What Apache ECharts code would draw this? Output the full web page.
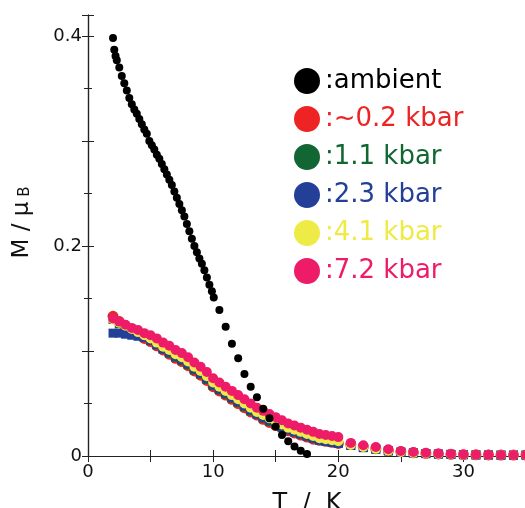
<!DOCTYPE html>
<html>
<head>
<meta charset="utf-8">
<script src="https://cdn.jsdelivr.net/npm/echarts@6/dist/echarts.min.js"></script>
<style>
  html, body { margin: 0; padding: 0; background: #fff; }
  #chart { width: 525px; height: 508px; }
</style>
</head>
<body>
<div id="chart"></div>
<script>
// ambient (black) - T in K, M in muB
const ambientT = [2.0, 2.1, 2.2, 2.3, 2.5, 2.7, 2.9, 3.1, 3.3, 3.5, 3.7, 3.9, 4.1, 4.3, 4.5, 4.7, 4.9,
  5.1, 5.3, 5.5, 5.7, 5.9, 6.1, 6.3, 6.5, 6.7, 6.9, 7.1, 7.3, 7.5, 7.7, 7.9, 8.1, 8.3, 8.5, 8.7, 8.9,
  9.1, 9.3, 9.5, 9.7, 9.9, 10.05, 10.5, 11.0, 11.5, 12.0, 12.5, 13.0, 13.5, 14.0, 14.5, 15.0, 15.5,
  16.0, 16.5, 17.0, 17.5];
const ambientM = [0.398, 0.387, 0.381, 0.377, 0.370, 0.362, 0.355, 0.348, 0.341, 0.335, 0.330, 0.326,
  0.321, 0.316, 0.311, 0.307, 0.300, 0.296, 0.292, 0.287, 0.283, 0.278, 0.273, 0.268, 0.263, 0.258,
  0.252, 0.246, 0.240, 0.234, 0.228, 0.221, 0.214, 0.207, 0.200, 0.194, 0.188, 0.183, 0.177, 0.170,
  0.163, 0.157, 0.151, 0.139, 0.123, 0.107, 0.093, 0.078, 0.066, 0.056, 0.045, 0.036, 0.028, 0.020,
  0.014, 0.009, 0.005, 0.002];

// pressure runs share the same temperatures
const pressT = [2.0, 2.5, 3.0, 3.5, 4.0, 4.5, 5.0, 5.5, 6.0, 6.5, 7.0, 7.5, 8.0, 8.5, 9.0, 9.5, 10.0,
  10.5, 11.0, 11.5, 12.0, 12.5, 13.0, 13.5, 14.0, 14.5, 15.0, 15.5, 16.0, 16.5, 17.0, 17.5, 18.0,
  18.5, 19.0, 19.5, 20.0, 21, 22, 23, 24, 25, 26, 27, 28, 29, 30, 31, 32, 33, 34, 35];

const m02 = [0.133, 0.128, 0.123, 0.119, 0.116, 0.112, 0.109, 0.105, 0.101, 0.097, 0.093, 0.090,
  0.086, 0.081, 0.077, 0.072, 0.066, 0.062, 0.058, 0.054, 0.050, 0.046, 0.042, 0.039, 0.035, 0.032,
  0.029, 0.027, 0.024, 0.022, 0.020, 0.018, 0.016, 0.015, 0.014, 0.013, 0.012,
  0.0110, 0.0090, 0.0070, 0.0052, 0.0040, 0.0031, 0.0024, 0.0020, 0.0016, 0.0013, 0.0011, 0.0010,
  0.0009, 0.0009, 0.0009];
const m11 = [0.130, 0.126, 0.122, 0.119, 0.116, 0.113, 0.110, 0.106, 0.102, 0.098, 0.094, 0.091,
  0.087, 0.082, 0.078, 0.073, 0.067, 0.063, 0.059, 0.055, 0.051, 0.047, 0.043, 0.040, 0.036, 0.033,
  0.030, 0.027, 0.025, 0.023, 0.021, 0.019, 0.017, 0.015, 0.014, 0.013, 0.012,
  0.0100, 0.0080, 0.0066, 0.0050, 0.0038, 0.0030, 0.0024, 0.0019, 0.0016, 0.0013, 0.0011, 0.0010,
  0.0009, 0.0009, 0.0009];
const m23 = [0.117, 0.117, 0.116, 0.115, 0.114, 0.113, 0.110, 0.106, 0.102, 0.099, 0.095, 0.092,
  0.088, 0.083, 0.079, 0.074, 0.068, 0.064, 0.060, 0.056, 0.052, 0.048, 0.044, 0.040, 0.037, 0.034,
  0.031, 0.028, 0.025, 0.023, 0.021, 0.019, 0.017, 0.015, 0.014, 0.013, 0.012,
  0.0100, 0.0080, 0.0064, 0.0048, 0.0036, 0.0028, 0.0022, 0.0018, 0.0015, 0.0012, 0.0010, 0.0009,
  0.0008, 0.0008, 0.0008];
const m41 = [0.130, 0.127, 0.124, 0.121, 0.118, 0.115, 0.112, 0.108, 0.104, 0.101, 0.097, 0.094,
  0.090, 0.085, 0.081, 0.076, 0.070, 0.066, 0.062, 0.058, 0.054, 0.050, 0.046, 0.042, 0.039, 0.036,
  0.033, 0.030, 0.027, 0.025, 0.023, 0.021, 0.019, 0.017, 0.016, 0.015, 0.014,
  0.0105, 0.0085, 0.0068, 0.0050, 0.0038, 0.0030, 0.0024, 0.0019, 0.0016, 0.0013, 0.0011, 0.0010,
  0.0009, 0.0009, 0.0009];
const m72 = [0.131, 0.128, 0.125, 0.122, 0.120, 0.117, 0.115, 0.112, 0.108, 0.105, 0.101, 0.098,
  0.094, 0.089, 0.085, 0.080, 0.074, 0.070, 0.066, 0.062, 0.058, 0.054, 0.050, 0.046, 0.043, 0.040,
  0.037, 0.034, 0.031, 0.029, 0.027, 0.025, 0.023, 0.021, 0.020, 0.019, 0.018,
  0.0125, 0.0102, 0.0086, 0.0064, 0.0048, 0.0038, 0.0030, 0.0023, 0.0020, 0.0015, 0.0013, 0.0011,
  0.0010, 0.0010, 0.0010];

const names = ['ambient', '~0.2 kbar', '1.1 kbar', '2.3 kbar', '4.1 kbar', '7.2 kbar'];
const colors = ['#000000', '#ee2424', '#126633', '#243f98', '#eeea46', '#ee1c68'];

function pairs(xs, ys) {
  return xs.map((x, i) => [x, ys[i]]);
}

const font = 'DejaVu Sans';
const axisLine = { show: true, lineStyle: { color: '#222', width: 1.2 } };

let myChart = echarts.init(document.getElementById('chart'));

function pressSeries(idx, ys, symbol, size) {
  return {
    name: names[idx],
    type: 'scatter',
    symbol: symbol,
    symbolSize: size,
    itemStyle: { color: colors[idx], opacity: 1 },
    data: pairs(pressT, ys)
  };
}

myChart.setOption({
  animation: false,
  backgroundColor: '#fff',
  grid: { left: 88, top: 15, width: 438, height: 441, outerBoundsMode: 'none', containLabel: false },
  legend: {
    orient: 'vertical',
    left: 289,
    top: 63,
    icon: 'circle',
    itemWidth: 26,
    itemHeight: 26,
    itemGap: 12,
    formatter: name => ':' + name,
    textStyle: { fontFamily: font, fontSize: 26 },
    data: names.map((n, i) => ({ name: n, textStyle: { color: colors[i] } }))
  },
  xAxis: [
    {
      type: 'value', min: 0, max: 35, interval: 5, position: 'bottom',
      axisLine: axisLine,
      axisTick: { inside: true, length: 6, lineStyle: { color: '#222' } },
      axisLabel: {
        fontFamily: font, fontSize: 18, color: '#111', margin: 7,
        formatter: v => (v % 10 === 0 ? String(v) : '')
      },
      splitLine: { show: false },
      name: 'T  /  K',
      nameLocation: 'middle',
      nameGap: 36,
      nameTextStyle: { fontFamily: font, fontSize: 24, color: '#111' }
    },
    {
      type: 'value', min: 0, max: 35, interval: 5, position: 'top',
      axisLine: axisLine,
      axisTick: { inside: true, length: 6, lineStyle: { color: '#222' } },
      axisLabel: { show: false },
      splitLine: { show: false }
    }
  ],
  yAxis: [
    {
      type: 'value', min: 0, max: 0.42, interval: 0.1, position: 'left',
      axisLine: axisLine,
      axisTick: { inside: true, length: 6, lineStyle: { color: '#222' } },
      minorTick: { show: true, splitNumber: 2, length: 4, lineStyle: { color: '#222' } },
      axisLabel: {
        fontFamily: font, fontSize: 18, color: '#111', margin: 6,
        formatter: function (v) {
          let k = Math.round(v * 10);
          if (Math.abs(v * 10 - k) > 1e-6 || k % 2 !== 0) return '';
          return k === 0 ? '0' : v.toFixed(1);
        }
      },
      splitLine: { show: false },
      name: '{a|M / μ}{b| B}',
      nameLocation: 'middle',
      nameGap: 54,
      nameTextStyle: {
        rich: {
          a: { fontFamily: font, fontSize: 23, color: '#111', padding: [0, 0, 0, 26] },
          b: { fontFamily: font, fontSize: 15, color: '#111', padding: [5, 0, 0, 0] }
        }
      }
    },
    {
      type: 'value', min: 0, max: 0.42, interval: 0.1, position: 'right',
      axisLine: axisLine,
      axisTick: { inside: true, length: 6, lineStyle: { color: '#222' } },
      minorTick: { show: true, splitNumber: 2, length: 4, lineStyle: { color: '#222' } },
      axisLabel: { show: false },
      splitLine: { show: false }
    }
  ],
  series: [
    pressSeries(1, m02, 'circle', 11),
    pressSeries(2, m11, 'rect', 9),
    pressSeries(3, m23, 'rect', 9),
    pressSeries(4, m41, 'circle', 10),
    pressSeries(5, m72, 'circle', 10),
    {
      name: names[0],
      type: 'scatter',
      symbolSize: 8,
      itemStyle: { color: colors[0], opacity: 1 },
      data: pairs(ambientT, ambientM)
    }
  ]
});
</script>
</body>
</html>
